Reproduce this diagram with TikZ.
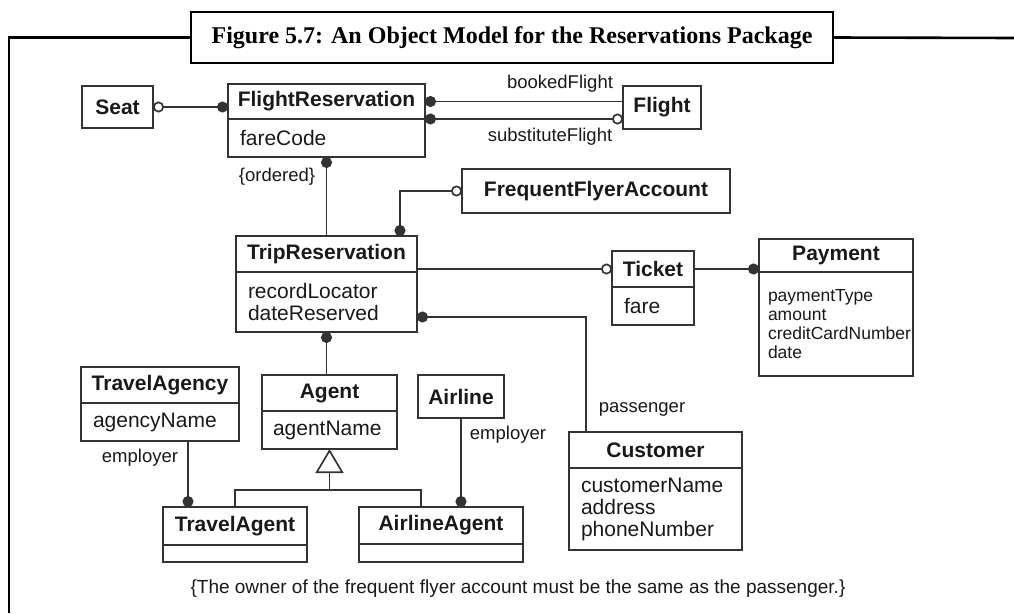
\documentclass[tikz,border=0pt]{standalone}
\usepackage{fontspec}
\usepackage{tikz}
\usetikzlibrary{arrows.meta,positioning}
\newfontfamily\umlsans{Liberation Sans}
\newfontfamily\titleserif{Liberation Serif}
\definecolor{umlline}{gray}{0.2}
\definecolor{umltext}{gray}{0.1}
\hyphenpenalty=10000

\tikzset{
  clsname/.style={draw=umlline, line width=1.7pt, text=umltext, inner sep=0pt, outer sep=0pt,
    anchor=north west, font=\umlsans\bfseries\fontsize{21}{22}\selectfont},
  clsattr/.style={draw=umlline, line width=1.7pt, text=umltext, inner xsep=12pt, inner ysep=0pt,
    outer sep=0pt, align=left, below=0pt of #1, font=\umlsans\fontsize{21}{22}\selectfont},
  assoc/.style={draw=umlline, line width=1.7pt},
  role/.style={text=umltext, inner sep=0pt, font=\umlsans\fontsize{18.5}{20}\selectfont},
  umldot/.tip={Circle[length=11pt]},
  umlring/.tip={Circle[open,length=11pt]}
}

\begin{document}
\begin{tikzpicture}[x=1pt, y=-1pt]
  \useasboundingbox (0,0) rectangle (1014,613);

  % frame and title
  \node[draw, line width=2.6pt, minimum width=642pt, minimum height=51pt, inner sep=0pt, outer sep=0pt,
    anchor=north west, font=\titleserif\bfseries\fontsize{24}{26}\selectfont] (title) at (191,12)
    {Figure 5.7: An Object Model for the Reservations Package};
  \draw[line width=2.6pt] (title.west) -| (9,613);
  \draw[line width=2.6pt] (title.east) -- (1014,38);

  % classes
  \node[clsname, minimum width=71pt, minimum height=42pt] (seat) at (82,86) {Seat};
  \node[clsname, minimum width=197pt, minimum height=35pt] (fr) at (228,84) {FlightReservation};
  \node[clsattr=fr, text width=173pt, minimum height=38pt] (frattr) {fareCode};
  \node[clsname, minimum width=78pt, minimum height=43pt] (flight) at (623,86) {Flight};
  \node[clsname, minimum width=268pt, minimum height=44pt] (ffa) at (462,169) {FrequentFlyerAccount};
  \node[clsname, minimum width=181pt, minimum height=36pt] (tr) at (236,236) {TripReservation};
  \node[clsattr=tr, text width=157pt, minimum height=60pt] (trattr) {recordLocator\\dateReserved};
  \node[clsname, minimum width=82pt, minimum height=36pt] (ticket) at (612,251) {Ticket};
  \node[clsattr=ticket, text width=58pt, minimum height=38pt] (ticketattr) {fare};
  \node[clsname, minimum width=154pt, minimum height=33pt] (pay) at (759,239) {Payment};
  \node[clsattr=pay, inner xsep=9pt, text width=136pt, minimum height=104pt,
    font=\umlsans\fontsize{17.5}{19}\selectfont] (payattr) {paymentType\\amount\\creditCardNumber\\date};
  \node[clsname, minimum width=158pt, minimum height=36pt] (tag) at (81,367) {TravelAgency};
  \node[clsattr=tag, text width=134pt, minimum height=38pt] (tagattr) {agencyName};
  \node[clsname, minimum width=135pt, minimum height=36pt] (agent) at (262,375) {Agent};
  \node[clsattr=agent, inner xsep=11pt, text width=113pt, minimum height=38pt] (agentattr) {agentName};
  \node[clsname, minimum width=86pt, minimum height=43pt] (airline) at (418,375) {Airline};
  \node[clsname, minimum width=173pt, minimum height=36pt] (cust) at (569,432) {Customer};
  \node[clsattr=cust, text width=149pt, minimum height=82pt] (custattr) {customerName\\address\\phoneNumber};
  \node[clsname, minimum width=144pt, minimum height=38pt] (ta) at (163,507) {TravelAgent};
  \node[clsattr=ta, text width=120pt, minimum height=17pt] (taattr) {};
  \node[clsname, minimum width=164pt, minimum height=37pt] (aa) at (359,507) {AirlineAgent};
  \node[clsattr=aa, text width=140pt, minimum height=18pt] (aaattr) {};

  % associations
  \draw[assoc, {umlring}-{umldot}] (seat.east) -- (seat.east -| fr.west);
  \draw[assoc, {umldot}-] (fr.east) -- (fr.east -| flight.west);
  \draw[assoc, {umldot}-{umlring}] (frattr.north east) -- (frattr.north east -| flight.west);
  \draw[assoc, -{umldot}] (tr.north) -- (frattr.south);
  \draw[assoc, {umldot}-{umlring}] ([xshift=-17pt]tr.north east) |- (ffa.west);
  \draw[assoc, -{umlring}] (ticket.west -| trattr.east) -- (ticket.west);
  \draw[assoc, -{umldot}] (ticket.east) -- (ticket.east -| pay.west);
  \draw[assoc, {umldot}-] ([yshift=-15pt]trattr.east) -| ([xshift=17pt]cust.north west);
  \draw[assoc, {umldot}-] (trattr.south) -- (trattr.south |- agent.north);
  \coordinate (taemp) at ([xshift=25pt]ta.north west);
  \draw[assoc, -{umldot}] (taemp |- tagattr.south) -- (taemp);
  \draw[assoc, -{umldot}] (airline.south) -- (airline.south |- aa.north);

  % generalization
  \coordinate (genbar) at ([yshift=-41pt]agentattr.south);
  \draw[assoc] (ta.north) |- (genbar) -| ([xshift=-20pt]aa.north);
  \draw[assoc, -{Triangle[open, length=24pt, width=28pt]}] (genbar) -- (agentattr.south);

  % role names and constraint
  \node[role] (bookedlbl) at (560,84) {bookedFlight};
  \node[role] (substlbl) at (550,137) {substituteFlight};
  \node[role] (orderedlbl) at (277,177) {\{ordered\}};
  \node[role] (passlbl) at (642,409) {passenger};
  \node[role] (emplbla) at (140,458) {employer};
  \node[role] (emplblb) at (508,435) {employer};
  \node[role, font=\umlsans\fontsize{19}{21}\selectfont] (constraint) at (518,589)
    {\{The owner of the frequent flyer account must be the same as the passenger.\}};
\end{tikzpicture}
\end{document}
